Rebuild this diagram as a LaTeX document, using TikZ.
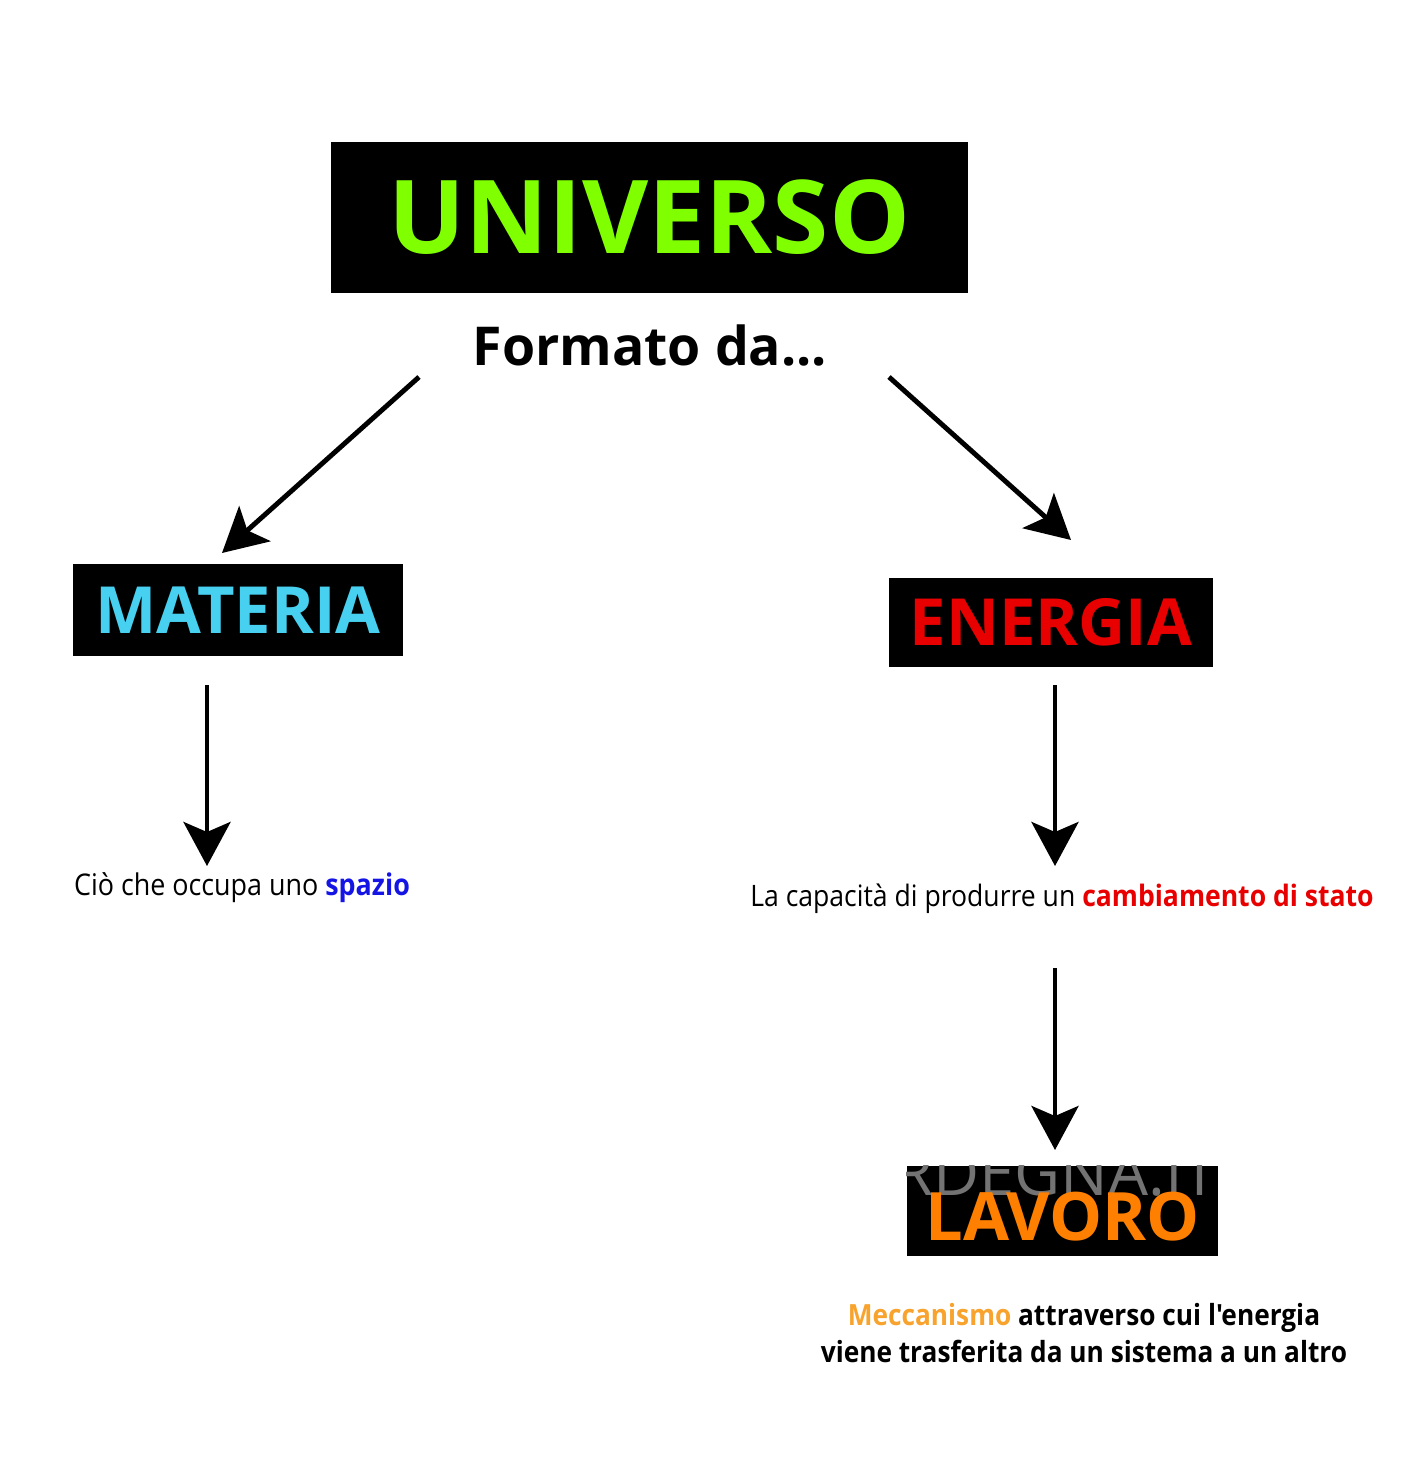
\documentclass[tikz,border=0pt]{standalone}
\usepackage{fontspec}
\setmainfont{Open Sans}
\newfontfamily\notefont{Open Sans}[FakeStretch=0.9]
\usepackage{xcolor}
\usepackage{tikz}
\usetikzlibrary{arrows.meta,positioning}

\definecolor{univgreen}{RGB}{127,255,0}
\definecolor{matblue}{RGB}{72,208,240}
\definecolor{enred}{RGB}{232,0,0}
\definecolor{lavorange}{RGB}{255,128,0}
\definecolor{spblue}{RGB}{20,20,228}
\definecolor{meccorange}{RGB}{247,163,45}

\begin{document}
\begin{tikzpicture}[
    x=0.02cm, y=-0.02cm,
    box/.style={fill=black, inner sep=0pt, font=\bfseries},
    arr/.style={-{Stealth[length=0.88cm, width=0.94cm, inset=0.2cm]}, line width=2.8pt},
    note/.style={font=\notefont\fontsize{17}{20}\selectfont, align=center}
]
    \useasboundingbox (0,0) rectangle (1422,1470);

    % boxes
    \node[box, minimum width=637*0.02cm, minimum height=151*0.02cm, text=univgreen,
          font=\bfseries\fontsize{58}{60}\selectfont] (univ) at (649.5,217.5) {UNIVERSO};
    \node[font=\bfseries\fontsize{30.5}{32}\selectfont] (formato) at (650,345) {Formato da...};

    \node[box, minimum width=330*0.02cm, minimum height=92*0.02cm, text=matblue,
          font=\bfseries\fontsize{37}{40}\selectfont] (mat) at (238,610) {MATERIA};
    \node[box, minimum width=324*0.02cm, minimum height=89*0.02cm, text=enred,
          font=\bfseries\fontsize{37}{40}\selectfont] (ene) at (1051,622.5) {ENERGIA};
    \node[box, minimum width=311*0.02cm, minimum height=90*0.02cm] (lav) at (1062.5,1211) {};

    % watermark on the lavoro box
    \begin{scope}
        \clip (lav.south west) rectangle (lav.north east);
        \node[text=black!55, anchor=base east, inner sep=0pt, font=\fontsize{36}{38}\selectfont] (wmark) at (1218,1195) {RDEGNA.IT};
    \end{scope}
    \node[text=lavorange, inner sep=0pt, font=\bfseries\fontsize{38}{40}\selectfont] (lavtext) at (1062.5,1217) {LAVORO};

    % definitions
    \node[note] (matdef) at (242,888) {Ciò che occupa uno \textbf{\textcolor{spblue}{spazio}}};
    \node[note, font=\notefont\fontsize{16.8}{20}\selectfont] (enedef) at (1062,899) {La capacità di produrre un \textbf{\textcolor{enred}{cambiamento di stato}}};
    \node[note, font=\notefont\bfseries\fontsize{16.6}{21}\selectfont] (lavdef) at (1084,1333)
        {\textcolor{meccorange}{Meccanismo} attraverso cui l'energia\\viene trasferita da un sistema a un altro};

    % arrow ends
    \coordinate (f1) at (419,377);
    \coordinate (m1) at (222,553);
    \coordinate (f2) at (889,377);
    \coordinate (e1) at (1071,540);
    \coordinate (m2) at (207,685);
    \coordinate (m3) at (207,866);
    \coordinate (e2) at (1055,685);
    \coordinate (e3) at (1055,866);
    \coordinate (e4) at (1055,968);
    \coordinate (e5) at (1055,1150);

    \draw[arr] (f1) -- (m1);
    \draw[arr] (f2) -- (e1);
    \draw[arr] (m2) -- (m3);
    \draw[arr] (e2) -- (e3);
    \draw[arr] (e4) -- (e5);
\end{tikzpicture}
\end{document}
